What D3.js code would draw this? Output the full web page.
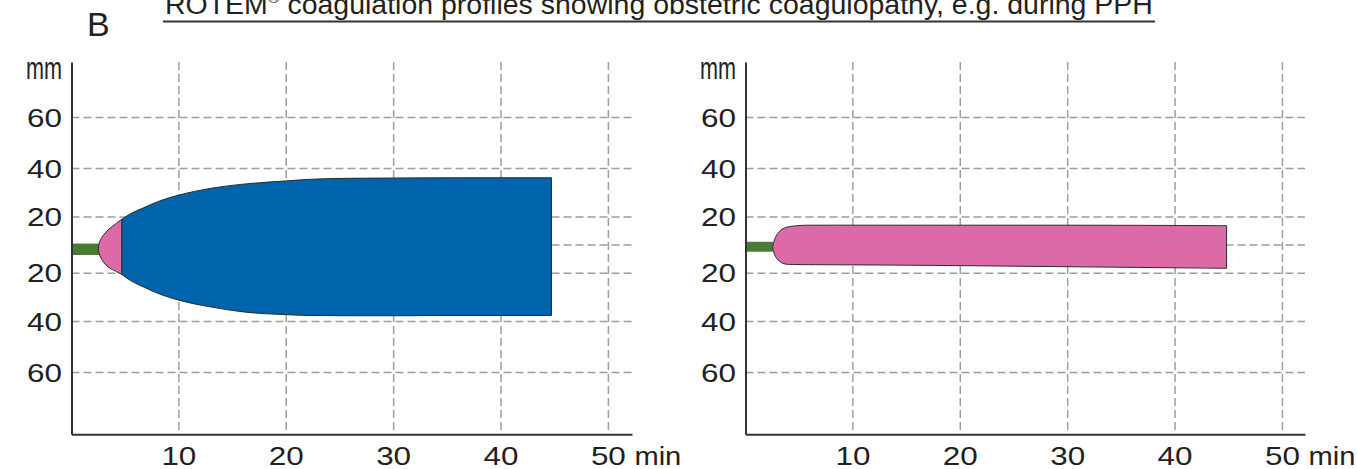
<!DOCTYPE html>
<html><head><meta charset="utf-8">
<script src="https://cdn.jsdelivr.net/npm/d3@7"></script>
<style>body{margin:0;background:#fff}svg{display:block}</style>
</head><body><svg id="c" width="1357" height="469"></svg>
<script>
// ---- text ----
const panelLabel = "B";
const titleMain = "ROTEM";
const titleSup = "®";
const titleRest = " coagulation profiles showing obstetric coagulopathy, e.g. during PPH";
const xUnit = "min";
const yUnit = "mm";

// ---- axes ----
const xTicks = [10, 20, 30, 40, 50];
const yGridPos = [50, 30, 11, 0, -11, -30, -50];
const yTickLabels = ["60", "40", "20", "", "20", "40", "60"];

// ---- left panel (normal clot firmness) ----
const leftGreenTime = [0, 2.6];
const leftGreenUpper = [0.6, 0.6];
const leftGreenLower = [-3.9, -3.9];
const leftPinkTime = [2.5, 2.7, 3.3, 4.0, 4.68];
const leftPinkUpper = [-1.3, 2.1, 5.5, 8.0, 10.1];
const leftPinkLower = [-1.3, -4.7, -8.2, -10.0, -11.5];
const leftBlueTime = [4.68, 5.5, 6.7, 8.2, 10.0, 12.9, 16.0, 20.1, 22.2, 26, 30, 36, 44.7];
const leftBlueUpper = [10.1, 12.3, 14.6, 17.3, 19.6, 22.2, 23.9, 25.2, 25.8, 26.2, 26.3, 26.4, 26.4];
const leftBlueLower = [-11.5, -13.9, -16.4, -19.2, -21.6, -24.2, -26.2, -27.3, -27.6, -27.7, -27.7, -27.6, -27.6];

// ---- right panel (obstetric coagulopathy) ----
const rightGreenTime = [0, 2.55];
const rightGreenUpper = [1.3, 1.3];
const rightGreenLower = [-2.6, -2.6];
const rightPinkTime = [2.53, 2.7, 2.9, 3.5, 4.8, 7.2, 11.9, 21.2, 30.5, 39.9, 44.8];
const rightPinkUpper = [-0.7, 2.0, 3.9, 6.5, 7.6, 7.8, 7.8, 7.8, 7.8, 7.7, 7.6];
const rightPinkLower = [-0.7, -3.5, -5.2, -7.2, -7.6, -7.7, -7.8, -8.1, -8.5, -8.9, -9.1];

// ---- styles ----
const C = { text: "#231f20", axis: "#333", grid: "#9d9d9d", green: "#4a7b35", blue: "#0064ad", pink: "#db6aa6", edge: "#2a2a2a" };
const FONT = "'Liberation Sans', Arial, Helvetica, sans-serif";
const FS = 25;

const svg = d3.select("#c");

// stretched text: left edge at x, baseline y, total width len
function label(g, x, y, txt, len, fs) {
  const grp = g.append("g");
  const t = grp.append("text").attr("x", 0).attr("y", 0)
    .attr("font-family", FONT).attr("font-size", fs || FS).attr("fill", C.text).text(txt);
  const w = t.node().getComputedTextLength() || len;
  grp.attr("transform", `translate(${x},${y}) scale(${len / w},1)`);
  return t;
}

// Title & panel letter
svg.append("text").attr("x", 87).attr("y", 36).attr("font-family", FONT).attr("font-size", 34)
  .attr("fill", C.text).text(panelLabel);
const tg = svg.append("g");
const tt = tg.append("text").attr("x", 0).attr("y", 0).attr("font-family", FONT).attr("font-size", 27)
  .attr("fill", C.text);
tt.append("tspan").text(titleMain);
tt.append("tspan").attr("font-size", 15).attr("dy", -11).text(titleSup);
tt.append("tspan").attr("dy", 11).text(titleRest);
const tw = tt.node().getComputedTextLength();
tg.attr("transform", `translate(165,14) scale(${988 / tw},1)`);
svg.append("line").attr("x1", 163).attr("x2", 1155).attr("y1", 21.5).attr("y2", 21.5)
  .attr("stroke", C.axis).attr("stroke-width", 2);

const yScale = d3.scaleLinear().domain([-74.2, 71.8]).range([434.3, 62]);

function panel(x0, x1, xmax, shapes) {
  const x = d3.scaleLinear().domain([0, xmax]).range([x0, x1]);
  const y = yScale;
  const g = svg.append("g");

  // grid
  g.selectAll(".hg").data(yGridPos).join("line")
    .attr("x1", x(0)).attr("x2", x(xmax)).attr("y1", d => y(d)).attr("y2", d => y(d))
    .attr("stroke", C.grid).attr("stroke-width", 1.5).attr("stroke-dasharray", "8,4");
  g.selectAll(".vg").data(xTicks).join("line")
    .attr("x1", d => x(d)).attr("x2", d => x(d)).attr("y1", y.range()[1]).attr("y2", y.range()[0])
    .attr("stroke", C.grid).attr("stroke-width", 1.5).attr("stroke-dasharray", "8,4");

  shapes(g, x, y);

  // axes
  const ax = g.append("g").attr("transform", `translate(0,${y.range()[0]})`)
    .call(d3.axisBottom(x).tickValues(xTicks).tickSize(0).tickFormat(""));
  ax.select(".domain").attr("stroke", C.axis).attr("stroke-width", 2);
  xTicks.forEach(t => label(g, x(t) - 17.5, 465, d3.format("d")(t), 35));

  const ay = g.append("g").attr("transform", `translate(${x(0)},0)`)
    .call(d3.axisLeft(y).tickValues(yGridPos).tickSize(0).tickFormat(""));
  ay.select(".domain").attr("stroke", C.axis).attr("stroke-width", 2);
  yGridPos.forEach((p, i) => {
    if (yTickLabels[i]) label(g, x(0) - 9.5 - 35, y(p) + 9, yTickLabels[i], 35);
  });

  label(g, x(0) - 9.5 - 36, 79, yUnit, 36, 31);
  label(g, x(50) + 26, 465, xUnit, 47);
}

function greenBar(g, x, y, t, up, lo) {
  g.append("rect").attr("x", x(t[0])).attr("width", x(t[1]) - x(t[0]))
    .attr("y", y(up[0])).attr("height", y(lo[0]) - y(up[0])).attr("fill", C.green);
}
function noseShape(g, x, y, t, up, lo, fill) {
  const pts = [];
  for (let i = t.length - 1; i >= 0; i--) pts.push([x(t[i]), y(lo[i])]);
  for (let i = 1; i < t.length; i++) pts.push([x(t[i]), y(up[i])]);
  const line = d3.line().curve(d3.curveCatmullRom.alpha(0.5));
  g.append("path").attr("d", line(pts) + "Z").attr("fill", fill)
    .attr("stroke", C.edge).attr("stroke-width", 1).attr("stroke-linejoin", "round");
}
function bodyShape(g, x, y, t, up, lo, fill) {
  const area = d3.area().x(d => x(d.t)).y0(d => y(d.lo)).y1(d => y(d.up)).curve(d3.curveMonotoneX);
  const data = t.map((v, i) => ({ t: v, up: up[i], lo: lo[i] }));
  g.append("path").attr("d", area(data)).attr("fill", fill)
    .attr("stroke", C.edge).attr("stroke-width", 1).attr("stroke-linejoin", "round");
}

panel(71.5, 632, 52.2, (g, x, y) => {
  greenBar(g, x, y, leftGreenTime, leftGreenUpper, leftGreenLower);
  bodyShape(g, x, y, leftBlueTime, leftBlueUpper, leftBlueLower, C.blue);
  noseShape(g, x, y, leftPinkTime, leftPinkUpper, leftPinkLower, C.pink);
});
panel(745.5, 1305, 52.1, (g, x, y) => {
  greenBar(g, x, y, rightGreenTime, rightGreenUpper, rightGreenLower);
  noseShape(g, x, y, rightPinkTime, rightPinkUpper, rightPinkLower, C.pink);
});
</script></body></html>
